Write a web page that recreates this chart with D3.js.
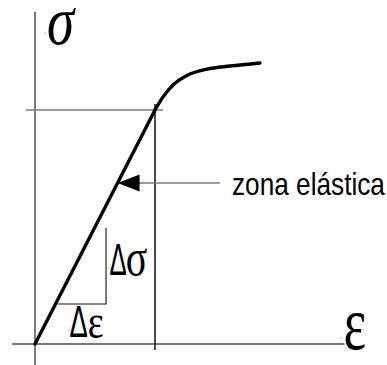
<!DOCTYPE html>
<html>
<head>
<meta charset="utf-8">
<script src="https://cdn.jsdelivr.net/npm/d3@7"></script>
<style>
  html, body { margin: 0; padding: 0; background: #fff; }
  svg { display: block; }
</style>
</head>
<body>
<svg id="chart" width="387" height="365"></svg>
<script>
// Stress–strain curve (normalised: yield point at strain 1, stress 1)
const strain = [0, 1, 1.067, 1.15, 1.275, 1.433, 1.625, 1.875];
const stress = [0, 1, 1.056, 1.107, 1.15, 1.175, 1.188, 1.201];
const yieldIndex = 1;

// Axis extents in data units
const strainAxis = [-0.19, 2.58];
const stressAxis = [-0.09, 1.42];

// Guide lines through the yield point
const yieldHLine = [-0.075, 1.067];
const yieldVLine = [-0.026, 1.026];

// Slope triangle (Δε, Δσ) under the elastic line
const triStrain = [0.19, 0.592];
const triStress = [0.171, 0.496];

// Stress level where the "zona elástica" arrow points
const arrowStress = 0.688;

// Labels
const labelStress = "σ";
const labelStrain = "ε";
const labelDStress = ["Δ", "σ"];
const labelDStrain = ["Δ", "ε"];
const labelZone = "zona elástica";

const svg = d3.select("#chart");
const x = d3.scaleLinear().domain([0, 1]).range([35, 155]);
const y = d3.scaleLinear().domain([0, 1]).range([344, 110]);

const pts = strain.map((s, i) => [s, stress[i]]);
const line = d3.line().x(d => x(d[0])).y(d => y(d[1]));

// axes
svg.append("line")
  .attr("x1", x(strainAxis[0])).attr("x2", x(strainAxis[1]))
  .attr("y1", y(0)).attr("y2", y(0))
  .attr("stroke", "#7a7a7a").attr("stroke-width", 2);
svg.append("line")
  .attr("x1", x(0)).attr("x2", x(0))
  .attr("y1", y(stressAxis[0])).attr("y2", y(stressAxis[1]))
  .attr("stroke", "#222").attr("stroke-width", 1.2);

// yield guides
svg.append("line")
  .attr("x1", x(yieldHLine[0])).attr("x2", x(yieldHLine[1]))
  .attr("y1", y(stress[yieldIndex])).attr("y2", y(stress[yieldIndex]))
  .attr("stroke", "#7a7a7a").attr("stroke-width", 1.6);
svg.append("line")
  .attr("x1", x(strain[yieldIndex])).attr("x2", x(strain[yieldIndex]))
  .attr("y1", y(yieldVLine[0])).attr("y2", y(yieldVLine[1]))
  .attr("stroke", "#111").attr("stroke-width", 1.5);

// slope triangle
svg.append("path")
  .attr("d", line([[triStrain[0], triStress[0]], [triStrain[1], triStress[0]], [triStrain[1], triStress[1]]]))
  .attr("fill", "none").attr("stroke", "#111").attr("stroke-width", 1.1);

// curve: elastic straight part + plastic curve
svg.append("path")
  .attr("d", line(pts.slice(0, yieldIndex + 1)))
  .attr("fill", "none").attr("stroke", "#000").attr("stroke-width", 3.4)
  .attr("stroke-linecap", "round");
svg.append("path")
  .attr("d", line.curve(d3.curveMonotoneX)(pts.slice(yieldIndex)))
  .attr("fill", "none").attr("stroke", "#000").attr("stroke-width", 3.4)
  .attr("stroke-linecap", "round");

// arrow to the elastic zone
const tipX = x(arrowStress), tipY = y(arrowStress);
svg.append("line")
  .attr("x1", tipX + 20).attr("x2", 220)
  .attr("y1", tipY).attr("y2", tipY)
  .attr("stroke", "#7a7a7a").attr("stroke-width", 1.6);
svg.append("path")
  .attr("d", `M${tipX},${tipY} L${tipX + 22},${tipY - 8.5} L${tipX + 22},${tipY + 8.5} Z`)
  .attr("fill", "#000");

// text helpers: fit a glyph's ink to a box
const ctx = document.createElement("canvas").getContext("2d");
function fitGlyph(str, family, style, bx, by, bw, bh) {
  const ref = 100;
  ctx.font = `${style} ${ref}px ${family}`;
  const m = ctx.measureText(str);
  const inkW = m.actualBoundingBoxLeft + m.actualBoundingBoxRight;
  const inkH = m.actualBoundingBoxAscent + m.actualBoundingBoxDescent;
  const k = bh / inkH;
  const size = ref * k;
  const sx = bw / (inkW * k);
  const tx = bx + sx * m.actualBoundingBoxLeft * k;
  const ty = by + m.actualBoundingBoxAscent * k;
  svg.append("text")
    .attr("transform", `translate(${tx},${ty}) scale(${sx},1)`)
    .attr("font-size", size)
    .style("font-family", family)
    .style("font-style", style)
    .attr("fill", "#000")
    .text(str);
}
const serif = "'Liberation Serif'";
const sans = "'Liberation Sans'";

fitGlyph(labelStress, serif, "italic", 48, 8, 28, 37);
fitGlyph(labelStrain, serif, "normal", 345, 313, 20, 37);
fitGlyph(labelDStress[0], sans, "normal", 110, 245, 16, 30);
fitGlyph(labelDStress[1], serif, "normal", 127, 248, 20, 28);
fitGlyph(labelDStrain[0], sans, "normal", 70, 307, 17, 30);
fitGlyph(labelDStrain[1], serif, "normal", 89, 315, 14, 23);

// callout label, condensed horizontally to fit the right margin
const zoneSize = 30.5, zoneWidth = 153;
ctx.font = `${zoneSize}px ${sans}`;
const zoneScale = zoneWidth / ctx.measureText(labelZone).width;
svg.append("text")
  .attr("transform", `translate(232,195) scale(${zoneScale},1)`)
  .attr("font-size", zoneSize)
  .style("font-family", sans)
  .attr("fill", "#000")
  .text(labelZone);

// tiny anchor dots beside the symbols
[[45, 33], [110, 268], [69, 330], [341, 338]].forEach(([px, py]) => {
  svg.append("circle").attr("cx", px).attr("cy", py).attr("r", 0.7).attr("fill", "#999");
});
</script>
</body>
</html>
